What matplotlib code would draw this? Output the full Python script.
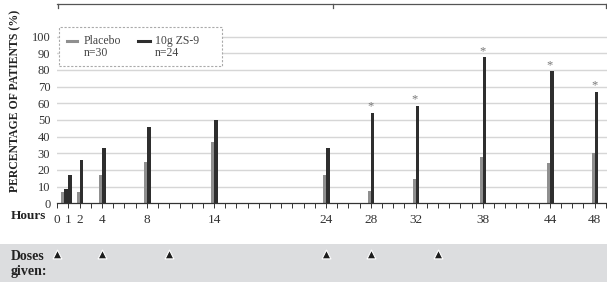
import matplotlib
matplotlib.use("Agg")
import matplotlib.pyplot as plt
from matplotlib.patches import Rectangle
from matplotlib.lines import Line2D

plt.rcParams['font.family'] = ['Liberation Serif', 'DejaVu Serif']

# --- DATA ---
hours = [0.6, 1, 2, 4, 8, 14, 24, 28, 32, 38, 44, 48]
hour_labels = ["0", "1", "2", "4", "8", "14", "24", "28", "32", "38", "44", "48"]
label_pos = [0, 1, 2, 4, 8, 14, 24, 28, 32, 38, 44, 48]
placebo = [7, 6.7, 6.7, 16.7, 25, 36.7, 16.7, 7.4, 14.6, 28, 24.4, 30.4]
zs9 = [8.3, 16.7, 26.2, 33.3, 45.8, 50, 33.3, 54.2, 58.3, 87.5, 79.2, 66.7]
significant = [False, False, False, False, False, False, False, True, True, True, True, True]
dose_hours = [0, 4, 10, 24, 28, 34]

GRAY = "#8f8f8f"
DARK = "#2e2e2e"

# --- FIGURE ---
W, H = 607, 282
fig = plt.figure(figsize=(W / 100, H / 100), dpi=100)

# bottom band for doses
fig.patches.append(Rectangle((0, 0), 1, 38 / H, transform=fig.transFigure,
                             facecolor="#dcdddf", edgecolor="none", zorder=0))

left = 57.3 / W
bottom = (H - 203.3) / H
top = (H - 4.3) / H
ax = fig.add_axes([left, bottom, 1 - left, top - bottom])
ax.set_xlim(0, 49.1)
ax.set_ylim(0, 119.4)

# gridlines
for y in range(10, 101, 10):
    ax.axhline(y, color="#d6d6d6", lw=1.0, zorder=0)

bw_p, bw_z = 0.27, 0.33
ax.bar([h - bw_p / 2 for h in hours], placebo, width=bw_p, color=GRAY, zorder=2)
ax.bar([h + bw_z / 2 for h in hours], zs9, width=bw_z, color=DARK, zorder=2)

for h, v, s in zip(hours, zs9, significant):
    if s:
        ax.text(h - 0.05, v + 0.2, "*", ha="center", va="bottom", fontsize=9,
                color="#777777")

# axes styling
for side in ["left", "right"]:
    ax.spines[side].set_visible(False)
ax.spines["top"].set_color("#555555")
ax.spines["top"].set_linewidth(0.9)
ax.spines["bottom"].set_color("#333333")
ax.spines["bottom"].set_linewidth(0.9)
# small ticks hanging from the top line
for xp in [0.04, 24.6, 49.05]:
    ax.plot([xp, xp], [119.4, 117.2], color="#555555", lw=0.9, clip_on=False)

ax.set_yticks(range(0, 101, 10))
ax.tick_params(axis="y", length=0, labelsize=9, pad=5, labelcolor="#333333")
ax.set_xticks(range(0, 50), minor=True)
ax.set_xticks(label_pos)
ax.set_xticklabels(hour_labels)
ax.tick_params(axis="x", which="both", direction="out", length=3.5, width=0.7,
               color="#333333", labelsize=9.5, pad=4, labelcolor="#333333")

fig.text(15 / W, 1 - 101 / H, "PERCENTAGE OF PATIENTS (%)", rotation=90,
         ha="center", va="center", fontsize=8.5, fontweight="bold", color="#222222")
fig.text(11 / W, 1 - 216 / H, "Hours", ha="left", va="center", fontsize=9.5,
         fontweight="bold", color="#222222")

# legend box (dashed frame)
fig.patches.append(Rectangle((59.3 / W, 1 - 65.7 / H), (221.7 - 59.3) / W, 38.4 / H,
                             transform=fig.transFigure, facecolor="white",
                             edgecolor="#aaaaaa", lw=0.8, linestyle=(0, (2, 1.5)),
                             zorder=3))
fig.lines.append(Line2D([67 / W, 77 / W], [1 - 41 / H] * 2, transform=fig.transFigure,
                        color=GRAY, lw=2.2, zorder=4))
fig.lines.append(Line2D([138 / W, 150 / W], [1 - 41 / H] * 2, transform=fig.transFigure,
                        color=DARK, lw=2.2, zorder=4))
fig.text(84 / W, 1 - 41 / H, "Placebo", va="center", fontsize=8.5, color="#444444", zorder=5)
fig.text(84 / W, 1 - 53.5 / H, "n=30", va="center", fontsize=8.5, color="#444444", zorder=5)
fig.text(155 / W, 1 - 41 / H, "10g ZS-9", va="center", fontsize=8.5, color="#444444", zorder=5)
fig.text(155 / W, 1 - 53.5 / H, "n=24", va="center", fontsize=8.5, color="#444444", zorder=5)

# doses row
dax = fig.add_axes([left, 0, 1 - left, 38 / H])
dax.set_zorder(2)
dax.set_xlim(0, 49.1)
dax.set_ylim(0, 38)
dax.axis("off")
dax.scatter(dose_hours, [28.5] * len(dose_hours), marker="^", s=40, color="#1e1e1e",
            edgecolors="white", linewidths=0.8, zorder=3, clip_on=False)
fig.text(11 / W, 1 - 256 / H, "Doses", ha="left", va="center", fontsize=10,
         fontweight="bold", color="#222222")
fig.text(11 / W, 1 - 271.5 / H, "given:", ha="left", va="center", fontsize=10,
         fontweight="bold", color="#222222")

fig.savefig("out.png", dpi=100)
